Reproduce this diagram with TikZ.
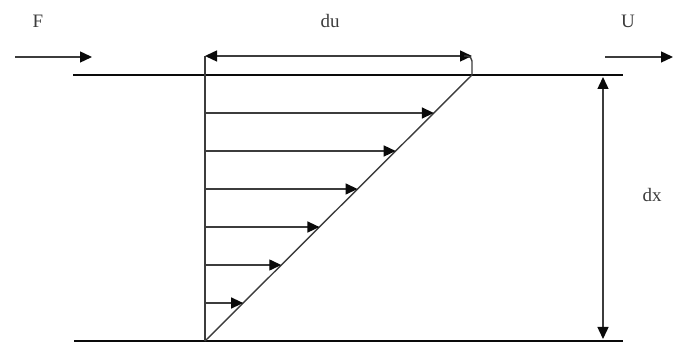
\documentclass[tikz,border=0pt]{standalone}
\usepackage{fontspec}
\setmainfont{Liberation Serif}
\usetikzlibrary{calc,arrows.meta}
\definecolor{ink}{RGB}{10,10,10}
\definecolor{guide}{RGB}{60,60,60}
\tikzset{
  plate/.style={ink,line width=2.8pt},
  thin/.style={guide,line width=1.4pt},
  tipped/.style={thin,-{Triangle[length=12pt,width=11pt,color=ink]}},
  twotipped/.style={thin,{Triangle[length=12pt,width=11pt,color=ink]}-{Triangle[length=12pt,width=11pt,color=ink]}},
  lbl/.style={font=\fontsize{19}{21}\selectfont,text=guide,inner sep=0pt}
}

\begin{document}
\begin{tikzpicture}[x=1pt,y=1pt,line cap=butt,line join=round]
\useasboundingbox (0,0) rectangle (673,343);
% plates
\coordinate (topL) at (73,268);
\coordinate (topR) at (623,268);
\coordinate (botL) at (74,2);
\coordinate (botR) at (623,2);
\draw[plate] (topL) -- (topR);
\draw[plate] (botL) -- (botR);
% wall and linear profile
\coordinate (base) at (205,2);
\coordinate (wallTop) at (205,287);
\coordinate (tip) at (472,268);
\draw[thin] (base) -- (wallTop);
\draw[thin] (base) -- (tip);
\foreach \k in {1,...,6} {
  \coordinate (v\k) at ($(base)!\k/7!(tip)$);
  \draw[tipped] (base |- v\k) -- (v\k);
}
% du
\coordinate (duR) at (472,287);
\draw[twotipped] (wallTop) -- (duR);
\draw[thin,rounded corners=5pt] ($(duR)+(-8,0)$) -| (tip);
\node[lbl] (du) at (330,322) {du};
% dx
\coordinate (dxTop) at (603,266);
\coordinate (dxBot) at (603,4);
\draw[twotipped] (dxTop) -- (dxBot);
\node[lbl] (dx) at (652,148) {dx};
% F and U
\coordinate (fA) at (15,286);
\coordinate (fB) at (92,286);
\draw[tipped] (fA) -- (fB);
\node[lbl] (F) at (38,322) {F};
\coordinate (uA) at (605,286);
\coordinate (uB) at (673,286);
\draw[tipped] (uA) -- (uB);
\node[lbl] (U) at (628,322) {U};
\end{tikzpicture}
\end{document}
